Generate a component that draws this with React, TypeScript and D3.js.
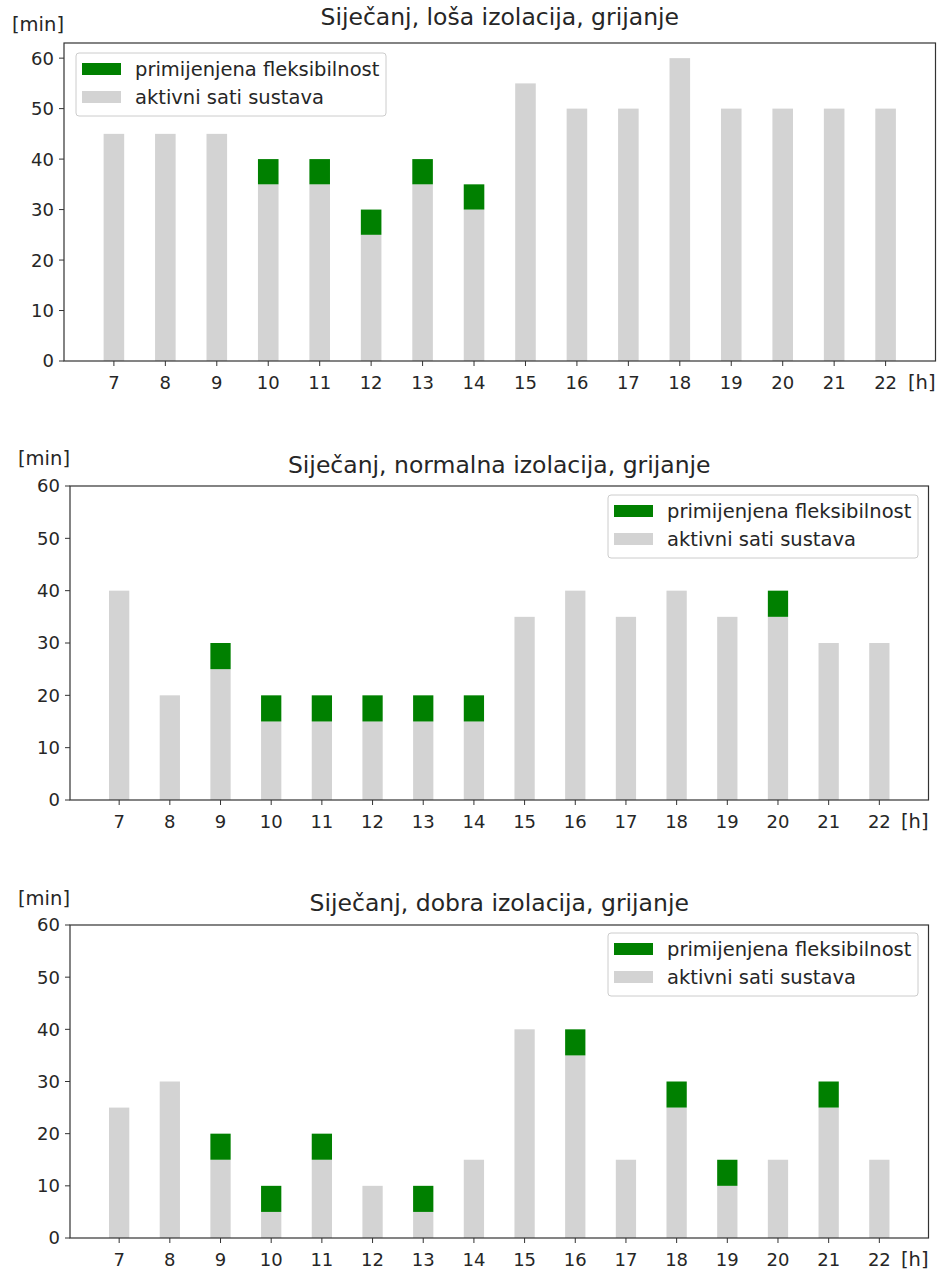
import React from "react";
import * as d3 from "d3";

const hours = [7, 8, 9, 10, 11, 12, 13, 14, 15, 16, 17, 18, 19, 20, 21, 22];
const yTicks = [0, 10, 20, 30, 40, 50, 60];

const titleLosa = "Siječanj, loša izolacija, grijanje";
const activeLosa = [45, 45, 45, 35, 35, 25, 35, 30, 55, 50, 50, 60, 50, 50, 50, 50];
const flexLosa = [0, 0, 0, 5, 5, 5, 5, 5, 0, 0, 0, 0, 0, 0, 0, 0];

const titleNormalna = "Siječanj, normalna izolacija, grijanje";
const activeNormalna = [40, 20, 25, 15, 15, 15, 15, 15, 35, 40, 35, 40, 35, 35, 30, 30];
const flexNormalna = [0, 0, 5, 5, 5, 5, 5, 5, 0, 0, 0, 0, 0, 5, 0, 0];

const titleDobra = "Siječanj, dobra izolacija, grijanje";
const activeDobra = [25, 30, 15, 5, 15, 10, 5, 15, 40, 35, 15, 25, 10, 15, 25, 15];
const flexDobra = [0, 0, 5, 5, 5, 0, 5, 0, 0, 5, 0, 5, 5, 0, 5, 0];

const legendFlex = "primijenjena fleksibilnost";
const legendActive = "aktivni sati sustava";
const yUnit = "[min]";
const xUnit = "[h]";

const FONT = "'DejaVu Sans', sans-serif";
const TEXT = "#262626";
const GREEN = "#008000";
const GRAY = "#d3d3d3";

type PanelProps = {
  left: number;
  right: number;
  top: number;
  bottom: number;
  yMax: number;
  title: string;
  titleOff: number;
  unitOff: number;
  active: number[];
  flex: number[];
  legendX: number;
  legendY: number;
};

function Panel(p: PanelProps) {
  const x = d3.scaleLinear().domain([6.03, 22.97]).range([p.left, p.right]);
  const y = d3.scaleLinear().domain([0, p.yMax]).range([p.bottom, p.top]);
  const bw = x(0.4) - x(0);
  const lw = 310;
  const lh = 63;
  return (
    <g>
      {hours.map((h, i) => (
        <g key={h}>
          <rect x={x(h) - bw / 2} width={bw} y={y(p.active[i])} height={y(0) - y(p.active[i])} fill={GRAY} />
          {p.flex[i] > 0 && (
            <rect
              x={x(h) - bw / 2}
              width={bw}
              y={y(p.active[i] + p.flex[i])}
              height={y(p.active[i]) - y(p.active[i] + p.flex[i])}
              fill={GREEN}
            />
          )}
        </g>
      ))}
      <rect x={p.left} y={p.top} width={p.right - p.left} height={p.bottom - p.top} fill="none" stroke="#333" strokeWidth={1.2} />
      {yTicks.map((t) => (
        <g key={t}>
          <line x1={p.left - 5} x2={p.left} y1={y(t)} y2={y(t)} stroke="#333" strokeWidth={1} />
          <text x={p.left - 10} y={y(t)} dy="0.36em" textAnchor="end" fontSize={18} fill={TEXT} fontFamily={FONT}>
            {t}
          </text>
        </g>
      ))}
      {hours.map((h) => (
        <g key={h}>
          <line x1={x(h)} x2={x(h)} y1={p.bottom} y2={p.bottom + 5} stroke="#333" strokeWidth={1} />
          <text x={x(h)} y={p.bottom + 28} textAnchor="middle" fontSize={18} fill={TEXT} fontFamily={FONT}>
            {h}
          </text>
        </g>
      ))}
      <text x={p.right} y={p.bottom + 28} textAnchor="end" fontSize={19.5} fill={TEXT} fontFamily={FONT}>
        {xUnit}
      </text>
      <text x={p.left} y={p.top - p.unitOff} textAnchor="end" fontSize={19.5} fill={TEXT} fontFamily={FONT}>
        {yUnit}
      </text>
      <text x={(p.left + p.right) / 2} y={p.top - p.titleOff} textAnchor="middle" fontSize={23.5} fill={TEXT} fontFamily={FONT}>
        {p.title}
      </text>
      <g transform={`translate(${p.legendX},${p.legendY})`}>
        <rect x={0} y={0} width={lw} height={lh} rx={3} fill="white" fillOpacity={0.8} stroke="#cccccc" strokeWidth={1} />
        <rect x={6} y={10} width={39} height={12} fill={GREEN} />
        <rect x={6} y={38} width={39} height={12} fill={GRAY} />
        <text x={59} y={22.5} fontSize={19.5} fill={TEXT} fontFamily={FONT}>
          {legendFlex}
        </text>
        <text x={59} y={50.5} fontSize={19.5} fill={TEXT} fontFamily={FONT}>
          {legendActive}
        </text>
      </g>
    </g>
  );
}

export default function App() {
  return (
    <svg width={941} height={1275} style={{ position: "absolute", left: 0, top: 0, background: "white" }}>
      <rect width={941} height={1275} fill="white" />
      <Panel left={64} right={935.5} top={43} bottom={361} yMax={63} title={titleLosa} titleOff={18} unitOff={12} active={activeLosa} flex={flexLosa} legendX={76} legendY={53} />
      <Panel left={70} right={928.5} top={486} bottom={800} yMax={60} title={titleNormalna} titleOff={13} unitOff={21} active={activeNormalna} flex={flexNormalna} legendX={608} legendY={495} />
      <Panel left={70} right={928.5} top={925} bottom={1238} yMax={60} title={titleDobra} titleOff={14} unitOff={20} active={activeDobra} flex={flexDobra} legendX={608} legendY={933} />
    </svg>
  );
}
